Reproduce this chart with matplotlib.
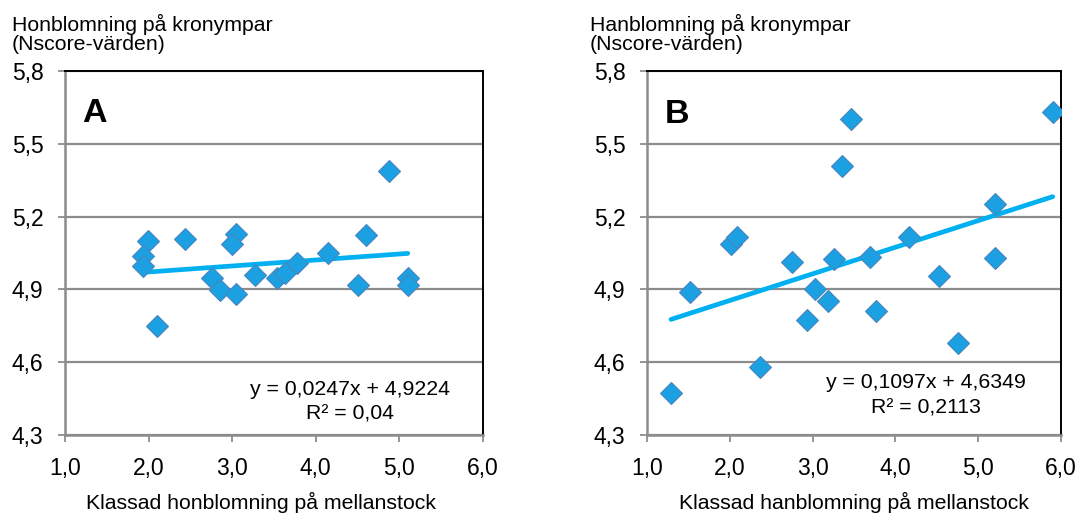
import matplotlib
matplotlib.use("Agg")
import matplotlib.pyplot as plt
import numpy as np

plt.rcParams['font.family'] = ['Liberation Sans', 'DejaVu Sans']

# Panel A data
xa = [1.99, 1.93, 1.93, 2.10, 2.43, 2.76, 2.86, 3.04, 3.00, 3.04,
      3.27, 3.53, 3.63, 3.77, 4.15, 4.60, 4.50, 4.87, 5.10, 5.10]
ya = [5.100, 5.038, 4.995, 4.751, 5.107, 4.946, 4.896, 5.129, 5.087, 4.880,
      4.960, 4.945, 4.966, 5.008, 5.052, 5.126, 4.920, 5.389, 4.946, 4.919]
slope_a, icpt_a = 0.0247, 4.9224
eq_a = ["y = 0,0247x + 4,9224", "R² = 0,04"]

# Panel B data
xb = [1.29, 1.52, 2.02, 2.09, 2.36, 2.75, 2.93, 3.03, 3.19, 3.26,
      3.36, 3.46, 3.69, 3.76, 4.16, 4.53, 4.75, 5.20, 5.20, 5.90]
yb = [4.473, 4.889, 5.087, 5.116, 4.582, 5.011, 4.774, 4.900, 4.852, 5.024,
      5.407, 5.604, 5.035, 4.812, 5.115, 4.957, 4.681, 5.250, 5.031, 5.629]
slope_b, icpt_b = 0.1097, 4.6349
eq_b = ["y = 0,1097x + 4,6349", "R² = 0,2113"]

xticks = [1.0, 2.0, 3.0, 4.0, 5.0, 6.0]
yticks = [4.3, 4.6, 4.9, 5.2, 5.5, 5.8]
xtick_labels = ["1,0", "2,0", "3,0", "4,0", "5,0", "6,0"]
ytick_labels = ["4,3", "4,6", "4,9", "5,2", "5,5", "5,8"]

titles = [["Honblomning på kronympar", "(Nscore-värden)"],
          ["Hanblomning på kronympar", "(Nscore-värden)"]]
xlabels = ["Klassad honblomning på mellanstock",
           "Klassad hanblomning på mellanstock"]
letters = ["A", "B"]

W, H = 1086, 515
fig = plt.figure(figsize=(W / 100, H / 100), dpi=100)

def px_axes(l, r, t, b):
    return fig.add_axes([l / W, 1 - b / H, (r - l) / W, (b - t) / H])

def ftext(x, y, s, **kw):
    return fig.text(x / W, 1 - y / H, s, **kw)

axA = px_axes(65, 483, 71, 435)
axB = px_axes(647, 1061, 71, 435)

marker_fc = "#1BA1E2"
marker_ec = "#4A84BE"
line_c = "#00B0F0"
grid_c = "#8C8C8C"
FS = 15.3

panels = [
    (axA, xa, ya, slope_a, icpt_a, eq_a, 350, (395, 420), 12, 82, 122, 261),
    (axB, xb, yb, slope_b, icpt_b, eq_b, 926, (388, 413), 590, 665, 123, 854),
]

for i, (ax, x, y, m, c, eq, eqx, eqy, tx, lx, ly, xlx) in enumerate(panels):
    ax.set_xlim(1.0, 6.0)
    ax.set_ylim(4.3, 5.8)
    ax.set_xticks(xticks)
    ax.set_xticklabels(xtick_labels)
    ax.set_yticks(yticks)
    ax.set_yticklabels(ytick_labels)
    ax.yaxis.grid(True, color=grid_c, linewidth=1.6)
    ax.set_axisbelow(True)
    ax.tick_params(axis='both', direction='out', length=5, width=1.3,
                   color=grid_c, labelsize=16.5, pad=10.5)
    for s in ['left', 'bottom']:
        ax.spines[s].set_color(grid_c)
        ax.spines[s].set_linewidth(1.8)
    for s in ['top', 'right']:
        ax.spines[s].set_color('black')
        ax.spines[s].set_linewidth(1.4)
    xs = np.array([min(x), max(x)])
    ax.plot(xs, m * xs + c, color=line_c, linewidth=3.4,
            solid_capstyle='round', zorder=2)
    ax.plot(x, y, linestyle='none', marker='D', markersize=11.5,
            markerfacecolor=marker_fc, markeredgecolor=marker_ec,
            markeredgewidth=0.8, zorder=3)

    ftext(lx, ly, letters[i], fontsize=24.5, fontweight='bold',
          ha='left', va='baseline')
    for line, yy in zip(eq, eqy):
        ftext(eqx, yy, line, ha='center', va='baseline', fontsize=FS)
    ftext(tx, 31, titles[i][0], ha='left', va='baseline', fontsize=FS)
    ftext(tx, 50, titles[i][1], ha='left', va='baseline', fontsize=FS)
    ftext(xlx, 509, xlabels[i], ha='center', va='baseline', fontsize=FS)

fig.savefig("out.png", dpi=100)
